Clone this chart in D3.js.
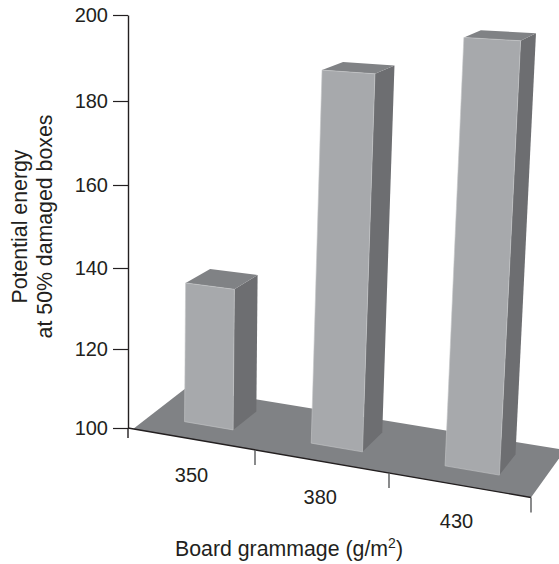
<!DOCTYPE html>
<html><head><meta charset="utf-8">
<script src="https://cdnjs.cloudflare.com/ajax/libs/d3/7.9.0/d3.min.js"></script>
<style>html,body{margin:0;background:#fff}svg{display:block}text{font-family:"Liberation Sans",Arial,sans-serif;fill:#231f20}</style>
</head><body><svg id="c" width="559" height="564"></svg>
<script>
const categories = ["350","380","430"];
const values = [134,186,195];
const yTicks = [100,120,140,160,180,200];
const yTickPixels = [428,349,268,185,101,15];
const xLabel = "Board grammage (g/m";
const yLabels = ["Potential energy","at 50% damaged boxes"];

const svg = d3.select("#c");
const ink = "#231f20";
const cFloor="#808285", cFront="#a7a9ac", cSide="#6d6e71", cTop="#808285";
const fs = 20, fsTitle = 21.3;

const y = d3.scaleLinear().domain(yTicks).range(yTickPixels);
const axisX = 128;
// floor frame
const uPos = d3.scaleLinear().domain([0,1,2,3]).range([128,255,389,531]);
const frontY = d3.scaleLinear().domain([128,531]).range([428,497.5]);
const backX = d3.scaleLinear().domain([128,531]).range([186,565]);
const backY = d3.scaleLinear().domain([128,531]).range([388,450]);
const band = d3.scaleBand().domain(categories).range([0,3]).paddingInner(.61).paddingOuter(.305);
const depth = [0.32,0.76];

function floorPt(u,d){
  const fx=uPos(u), fy=frontY(fx);
  return [fx+(backX(fx)-fx)*d, fy+(backY(fx)-fy)*d];
}
function pt3(u,d,v){
  const [fx,fy]=floorPt(u,d);
  const hs=y(100)-y(v);
  const H=hs*(0.335+0.00163*fy);
  const lean=7.4e-5*(fx+109)*H*H/400;
  return [fx+lean,fy-H];
}
const line=d3.line().curve(d3.curveLinearClosed);

// floor
svg.append("path").attr("fill",cFloor)
  .attr("d",line([floorPt(0.04,0),floorPt(3,0),floorPt(3,1),floorPt(0,1)]));

// bars
const bars=svg.selectAll("g.bar").data(categories).join("g").attr("class","bar");
bars.each(function(c,i){
  const g=d3.select(this), v=values[i];
  const u0=band(c), u1=u0+band.bandwidth();
  const [d0,d1]=depth;
  g.append("path").attr("fill",cSide)
    .attr("d",line([pt3(u1,d0,100),pt3(u1,d1,100),pt3(u1,d1,v),pt3(u1,d0,v)]));
  g.append("path").attr("fill",cTop)
    .attr("d",line([pt3(u0,d0,v),pt3(u1,d0,v),pt3(u1,d1,v),pt3(u0,d1,v)]));
  g.append("path").attr("fill",cFront).attr("stroke","#c4c6c8").attr("stroke-width",.6)
    .attr("d",line([pt3(u0,d0,100),pt3(u1,d0,100),pt3(u1,d0,v),pt3(u0,d0,v)]));
});

// y axis
const ax=svg.append("g").attr("transform",`translate(${axisX},0)`)
  .call(d3.axisLeft(y).tickValues(yTicks).tickSize(15).tickSizeOuter(0).tickPadding(5).tickFormat(d3.format("d")));
ax.selectAll("line").attr("stroke",ink).attr("stroke-width",1.2);
ax.select(".domain").attr("stroke",ink).attr("stroke-width",1.4);
ax.selectAll("text").attr("font-size",fs).style("font-family",'"Liberation Sans",Arial,sans-serif').attr("fill",ink);
svg.append("line").attr("x1",axisX).attr("x2",axisX).attr("y1",y(100)).attr("y2",y(100)+10).attr("stroke",ink).attr("stroke-width",1.4);

// front edge and ticks
const p0=floorPt(0,0), p3=floorPt(3,0);
svg.append("line").attr("x1",p0[0]).attr("y1",p0[1]).attr("x2",p3[0]).attr("y2",p3[1]).attr("stroke",ink).attr("stroke-width",1.4);
[1,2,3].forEach(u=>{const p=floorPt(u,0);
  svg.append("line").attr("x1",p[0]).attr("x2",p[0]).attr("y1",p[1]).attr("y2",p[1]+15).attr("stroke","#58595b").attr("stroke-width",1.4);});
categories.forEach((c,i)=>{const p=floorPt(i+.5,0);
  svg.append("text").attr("x",p[0]-i*1.75).attr("y",p[1]+43).attr("text-anchor","middle").attr("font-size",fs).text(c);});

// titles
const xt=svg.append("text").attr("x",289).attr("y",556).attr("text-anchor","middle").attr("font-size",fsTitle).text(xLabel);
xt.append("tspan").attr("dy",-8).attr("font-size",14).text("2");
xt.append("tspan").attr("dy",8).text(")");
yLabels.forEach((t,i)=>{
  svg.append("text").attr("transform",`translate(${26.5+i*25},226.5) rotate(-90)`).attr("text-anchor","middle").attr("font-size",fsTitle).text(t);
});
</script></body></html>
